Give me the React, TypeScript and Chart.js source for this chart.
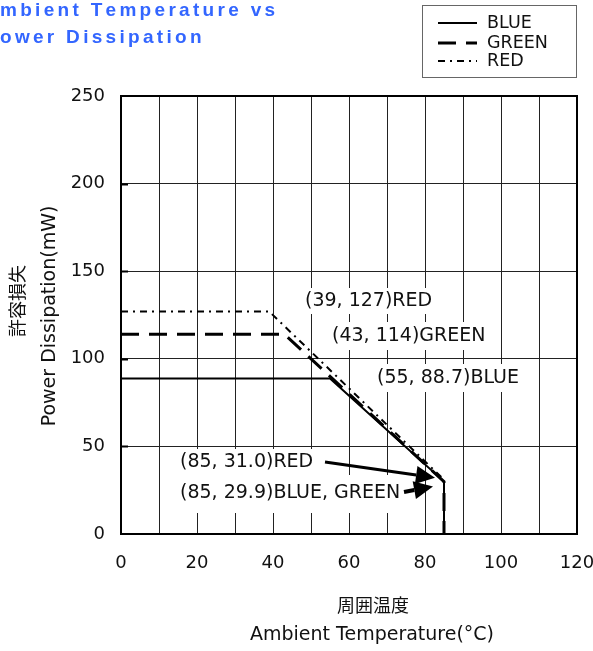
import React, { useEffect, useRef } from "react";
import { Chart, registerables } from "chart.js";

Chart.register(...registerables);

// ---------- data ----------
const X_MIN = 0;
const X_MAX = 120;
const X_GRID_STEP = 10;
const X_LABEL_STEP = 20;
const Y_MIN = 0;
const Y_MAX = 250;
const Y_STEP = 50;

const SERIES_LABELS = ["BLUE", "GREEN", "RED"];
const BLUE_TEMP = [0, 55, 85, 85];
const BLUE_POWER = [88.7, 88.7, 29.9, 0];
const GREEN_TEMP = [0, 43, 85, 85];
const GREEN_POWER = [114, 114, 29.9, 0];
const RED_TEMP = [0, 39, 85, 85];
const RED_POWER = [127, 127, 31.0, 0];

const TITLE_LINES = ["Ambient Temperature vs", "Power Dissipation"];
const X_TITLE = ["周囲温度", "Ambient Temperature(°C)"];
const Y_TITLE = ["許容損失", "Power Dissipation(mW)"];

const CALLOUT_TEXTS = [
  "(39, 127)RED",
  "(43, 114)GREEN",
  "(55, 88.7)BLUE",
  "(85, 31.0)RED",
  "(85, 29.9)BLUE, GREEN",
];
const ARROW_TARGET_TEMP = [85, 85];
const ARROW_TARGET_POWER = [31.0, 29.9];

// ---------- styles / layout ----------
const FONT = "'DejaVu Sans', Verdana, sans-serif";
const TITLE_FONT = "'Liberation Sans', Arial, sans-serif";
const SERIES_STYLES = [
  { dash: [] as number[], width: 2 },
  { dash: [18, 10], width: 3 },
  { dash: [7, 5, 2, 5], width: 2 },
];
const CALLOUT_LAYOUT = [
  { x: 305, y: 301, up: 13, down: 13 },
  { x: 332, y: 336, up: 14, down: 14 },
  { x: 377, y: 378, up: 14, down: 14 },
  { x: 180, y: 462, up: 13, down: 13 },
  { x: 180, y: 493, up: 18, down: 20 },
];
const ARROW_LAYOUT = [
  { sx: 325, sy: 462, dx: -9, dy: -2, w: 3 },
  { sx: 404, sy: 492, dx: -11, dy: 5, w: 4 },
];

function pts(xs: number[], ys: number[]) {
  return xs.map((x, i) => ({ x, y: ys[i] }));
}

function drawSpaced(ctx: CanvasRenderingContext2D, text: string, x: number, y: number, ls: number) {
  let cx = x;
  for (const ch of text) {
    ctx.fillText(ch, cx, y);
    cx += ctx.measureText(ch).width + ls;
  }
}

function drawArrow(
  ctx: CanvasRenderingContext2D,
  x1: number, y1: number, x2: number, y2: number,
  w: number, headLen: number, headHalf: number
) {
  const a = Math.atan2(y2 - y1, x2 - x1);
  const bx = x2 - headLen * Math.cos(a);
  const by = y2 - headLen * Math.sin(a);
  ctx.lineWidth = w;
  ctx.beginPath();
  ctx.moveTo(x1, y1);
  ctx.lineTo(bx, by);
  ctx.stroke();
  ctx.beginPath();
  ctx.moveTo(x2, y2);
  ctx.lineTo(bx + headHalf * Math.sin(a), by - headHalf * Math.cos(a));
  ctx.lineTo(bx - headHalf * Math.sin(a), by + headHalf * Math.cos(a));
  ctx.closePath();
  ctx.fill();
}

const decorPlugin = {
  id: "decor",
  beforeDatasetsDraw(chart: any) {
    const ctx: CanvasRenderingContext2D = chart.ctx;
    ctx.save();
    ctx.font = `19px ${FONT}`;
    ctx.fillStyle = "#ffffff";
    CALLOUT_LAYOUT.forEach((c, i) => {
      const w = ctx.measureText(CALLOUT_TEXTS[i]).width;
      ctx.fillRect(c.x - 5, c.y - c.up, w + 10, c.up + c.down);
    });
    ctx.fillStyle = "#111";
    ctx.textBaseline = "middle";
    ctx.textAlign = "left";
    CALLOUT_LAYOUT.forEach((c, i) => ctx.fillText(CALLOUT_TEXTS[i], c.x, c.y));
    ctx.restore();
  },
  afterDraw(chart: any) {
    const ctx: CanvasRenderingContext2D = chart.ctx;
    const { left, right, top, bottom } = chart.chartArea;
    const xs = chart.scales.x;
    const ys = chart.scales.y;
    ctx.save();

    // plot frame
    ctx.strokeStyle = "#000";
    ctx.lineWidth = 2;
    ctx.strokeRect(left, top, right - left, bottom - top);

    // inner tick marks on y axis
    for (let v = Y_MIN + Y_STEP; v < Y_MAX; v += Y_STEP) {
      const py = Math.round(ys.getPixelForValue(v)) + 0.5;
      ctx.lineWidth = 2;
      ctx.beginPath();
      ctx.moveTo(left, py);
      ctx.lineTo(left + 7, py);
      ctx.stroke();
    }

    // arrows
    ctx.fillStyle = "#000";
    ctx.strokeStyle = "#000";
    ARROW_LAYOUT.forEach((a, i) => {
      const tx = xs.getPixelForValue(ARROW_TARGET_TEMP[i]) + a.dx;
      const ty = ys.getPixelForValue(ARROW_TARGET_POWER[i]) + a.dy;
      drawArrow(ctx, a.sx, a.sy, tx, ty, a.w, 19, 9);
    });

    // legend
    ctx.lineWidth = 1;
    ctx.strokeStyle = "#666";
    ctx.strokeRect(422.5, 5.5, 154, 72);
    const rowY = [23, 43, 61];
    ctx.font = `17.5px ${FONT}`;
    ctx.textBaseline = "middle";
    ctx.textAlign = "left";
    SERIES_LABELS.forEach((lab, i) => {
      const st = SERIES_STYLES[i];
      ctx.strokeStyle = "#000";
      ctx.lineWidth = st.width;
      ctx.setLineDash(st.dash);
      ctx.beginPath();
      ctx.moveTo(438, rowY[i]);
      ctx.lineTo(477, rowY[i]);
      ctx.stroke();
      ctx.setLineDash([]);
      ctx.fillStyle = "#111";
      ctx.fillText(lab, 487, rowY[i]);
    });

    // title (clipped at left edge)
    ctx.fillStyle = "#3366ff";
    ctx.font = `bold 19px ${TITLE_FONT}`;
    ctx.textBaseline = "alphabetic";
    const ls = 3.3;
    const t1 = TITLE_LINES[0];
    const t2 = TITLE_LINES[1];
    const off1 = ctx.measureText(t1[0]).width + ls;
    const off2 = ctx.measureText(t2[0]).width + ls;
    drawSpaced(ctx, t1, 0 - off1, 16, ls);
    drawSpaced(ctx, t2, 0 - off2, 43, ls);

    // axis titles
    ctx.fillStyle = "#111";
    ctx.textAlign = "center";
    ctx.textBaseline = "middle";
    ctx.font = `18px 'Noto Sans CJK JP', ${FONT}`;
    ctx.fillText(X_TITLE[0], 373, 605);
    ctx.font = `19px ${FONT}`;
    ctx.fillText(X_TITLE[1], 372, 635);

    ctx.save();
    ctx.translate(17, 301);
    ctx.rotate(-Math.PI / 2);
    ctx.font = `18px 'Noto Sans CJK JP', ${FONT}`;
    ctx.fillText(Y_TITLE[0], 0, 0);
    ctx.restore();
    ctx.save();
    ctx.translate(50, 316);
    ctx.rotate(-Math.PI / 2);
    ctx.font = `19px ${FONT}`;
    ctx.fillText(Y_TITLE[1], 0, 0);
    ctx.restore();

    ctx.restore();
  },
};

export default function App() {
  const ref = useRef<HTMLCanvasElement | null>(null);
  useEffect(() => {
    if (!ref.current) return;
    const datasets = [
      pts(BLUE_TEMP, BLUE_POWER),
      pts(GREEN_TEMP, GREEN_POWER),
      pts(RED_TEMP, RED_POWER),
    ].map((data, i) => ({
      label: SERIES_LABELS[i],
      data,
      borderColor: "#000",
      backgroundColor: "#000",
      borderWidth: SERIES_STYLES[i].width,
      borderDash: SERIES_STYLES[i].dash,
      pointRadius: 0,
      showLine: true,
      fill: false,
      tension: 0,
      borderJoinStyle: "miter" as const,
    }));
    const chart = new Chart(ref.current, {
      type: "scatter",
      data: { datasets },
      plugins: [decorPlugin],
      options: {
        animation: false,
        responsive: false,
        devicePixelRatio: 1,
        layout: { padding: { left: 71, right: 16, top: 96, bottom: 77 } },
        plugins: {
          legend: { display: false },
          title: { display: false },
          tooltip: { enabled: false },
        },
        scales: {
          x: {
            type: "linear",
            min: X_MIN,
            max: X_MAX,
            afterFit: (s: any) => {
              s.height = 40;
              s.paddingLeft = 0;
              s.paddingRight = 0;
            },
            ticks: {
              stepSize: X_GRID_STEP,
              autoSkip: false,
              maxRotation: 0,
              padding: 19,
              color: "#111",
              font: { family: FONT, size: 18 },
              callback: (v: any) => (Number(v) % X_LABEL_STEP === 0 ? String(v) : ""),
            },
            grid: { color: "#222", lineWidth: 1, drawTicks: false },
            border: { color: "#000", width: 2 },
          },
          y: {
            type: "linear",
            min: Y_MIN,
            max: Y_MAX,
            afterFit: (s: any) => {
              s.width = 50;
              s.paddingTop = 0;
              s.paddingBottom = 0;
            },
            ticks: {
              stepSize: Y_STEP,
              padding: 16,
              color: "#111",
              font: { family: FONT, size: 18 },
            },
            grid: { color: "#222", lineWidth: 1, drawTicks: false },
            border: { color: "#000", width: 2 },
          },
        },
      },
    });
    return () => chart.destroy();
  }, []);
  return (
    <div style={{ position: "absolute", left: 0, top: 0, width: 593, height: 651, background: "#fff" }}>
      <canvas ref={ref} width={593} height={651} style={{ display: "block" }} />
    </div>
  );
}
